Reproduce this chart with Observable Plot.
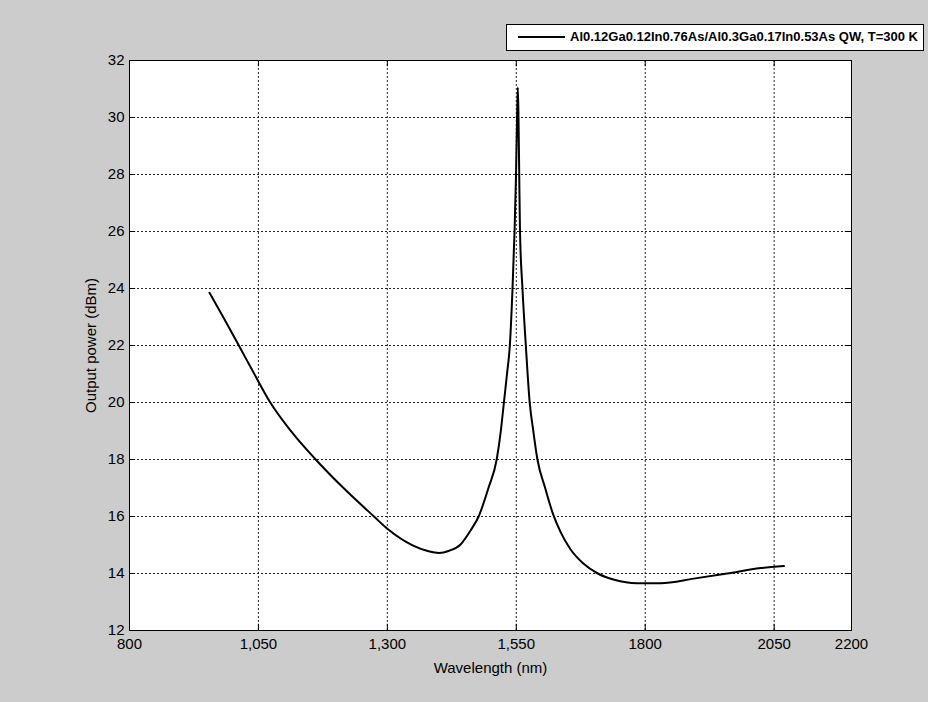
<!DOCTYPE html>
<html>
<head>
<meta charset="utf-8">
<script src="https://cdn.jsdelivr.net/npm/d3@7"></script>
<script src="https://cdn.jsdelivr.net/npm/@observablehq/plot@0.6"></script>
<style>
  html, body { margin: 0; padding: 0; background: #cccccc; }
  #wrap { position: relative; width: 928px; height: 702px; background: #cccccc; overflow: hidden; }
  #legend { position: absolute; left: 506px; top: 24px; width: 416px; height: 25px; background: #fff; border: 1px solid #000;
    font-family: "Liberation Sans", Arial, sans-serif; font-weight: bold; font-size: 13px; color: #000; }
  #legend .sw { position: absolute; left: 11px; top: 11px; width: 47px; height: 2px; background: #000; }
  #legend .tx { position: absolute; left: 63px; top: 4px; white-space: nowrap; }
</style>
</head>
<body>
<div id="wrap">
  <div id="chart"></div>
  <div id="legend"><div class="sw"></div><div class="tx" id="legendText"></div></div>
</div>
<script>
const seriesName = "Al0.12Ga0.12In0.76As/Al0.3Ga0.17In0.53As QW, T=300 K";
const wavelength = [955, 980, 1012, 1040, 1073, 1112, 1161, 1216, 1274, 1300, 1350, 1380, 1400, 1420, 1442, 1461, 1477, 1496, 1512, 1520, 1526, 1532, 1537.5, 1542.7, 1546.6, 1549.5, 1551.5, 1553, 1554.3, 1555.7, 1557.2, 1562, 1568.5, 1576, 1583, 1591, 1606, 1621, 1636, 1655, 1680, 1708, 1740, 1784, 1830, 1894, 1959, 2024, 2069];
const power = [23.85, 23.05, 22, 21.07, 20, 19.02, 18, 16.98, 16, 15.57, 14.98, 14.78, 14.72, 14.8, 15.02, 15.5, 16, 17.0, 18, 19, 20, 21, 22, 24, 26, 28, 30, 31.05, 30, 28, 26, 24, 22, 20, 19, 18, 17, 16.1, 15.45, 14.85, 14.35, 14.0, 13.78, 13.66, 13.66, 13.82, 14.0, 14.19, 14.26];
const xTicks = [800, 1050, 1300, 1550, 1800, 2050, 2200];
const xTickLabels = ["800", "1,050", "1,300", "1,550", "1800", "2050", "2200"];
const yTicks = [12, 14, 16, 18, 20, 22, 24, 26, 28, 30, 32];
const xLabel = "Wavelength (nm)";
const yLabel = "Output power (dBm)";

document.getElementById("legendText").textContent = seriesName;

const data = wavelength.map((w, i) => ({w, p: power[i]}));
const innerX = xTicks.slice(1, -1);
const innerY = yTicks.slice(1, -1);

const chart = Plot.plot({
  width: 928,
  height: 702,
  marginLeft: 129,
  marginRight: 77,
  marginTop: 60,
  marginBottom: 72,
  style: {background: "transparent", fontFamily: "'Liberation Sans', Arial, sans-serif", fontSize: "15px", color: "#000"},
  x: {domain: [800, 2200]},
  y: {domain: [12, 32]},
  marks: [
    Plot.frame({fill: "#fff", stroke: "none"}),
    Plot.gridX(innerX, {stroke: "#000", strokeOpacity: 0.85, strokeDasharray: "2,2"}),
    Plot.gridY(innerY, {stroke: "#000", strokeOpacity: 0.85, strokeDasharray: "2,2"}),
    Plot.ruleX(xTicks, {y1: 12, y2: 12.22, stroke: "#000"}),
    Plot.ruleX(xTicks, {y1: 32, y2: 31.78, stroke: "#000"}),
    Plot.ruleY(yTicks, {x1: 800, x2: 812, stroke: "#000"}),
    Plot.ruleY(yTicks, {x1: 2200, x2: 2188, stroke: "#000"}),
    Plot.line(data, {x: "w", y: "p", stroke: "#000", strokeWidth: 2, curve: "monotone-x"}),
    Plot.frame({stroke: "#000", strokeWidth: 1}),
    Plot.axisX(xTicks, {tickSize: 0, tickPadding: 8, tickFormat: (d, i) => xTickLabels[i], label: xLabel, labelAnchor: "center", labelArrow: "none", labelOffset: 42, fontSize: 15}),
    Plot.axisY(yTicks, {tickSize: 0, tickPadding: 5, label: yLabel, labelAnchor: "center", labelArrow: "none", labelOffset: 44, fontSize: 15})
  ]
});
document.getElementById("chart").appendChild(chart);
</script>
</body>
</html>
